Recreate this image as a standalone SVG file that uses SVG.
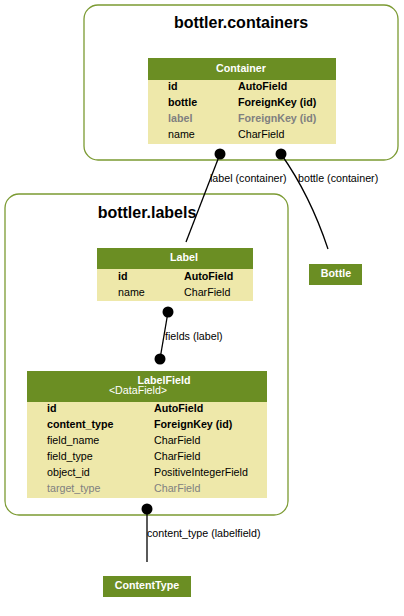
<svg xmlns="http://www.w3.org/2000/svg" width="404" height="616" viewBox="0 0 404 616">
<style>
text{font-family:"Liberation Sans",Arial,sans-serif;font-size:10.7px;fill:#000}
.cl{fill:#fff;stroke:#7b9a32;stroke-width:1.3}
.ct{font-size:16px;font-weight:bold;text-anchor:middle}
.hd{fill:#6b8e23}
.bd{fill:#eee8aa}
.ht{fill:#fff;font-weight:bold;text-anchor:middle}
.hs{fill:#fff;text-anchor:middle}
.b{font-weight:bold}
.g{fill:#808080}
.e{fill:none;stroke:#000;stroke-width:1.3}
.dot{fill:#000}
</style>
<rect width="404" height="616" fill="#fff"/>
<g id="cluster_containers">
<rect class="cl" x="84" y="5" width="314" height="155" rx="14"/>
<text class="ct" x="241" y="28">bottler.containers</text>
</g>
<g id="cluster_labels">
<rect class="cl" x="5" y="194" width="283" height="321" rx="14"/>
<text class="ct" x="147" y="218">bottler.labels</text>
</g>
<g id="Container">
<rect class="hd" x="148" y="58" width="188" height="22"/>
<rect class="bd" x="148" y="80" width="188" height="64"/>
<text class="ht" x="241" y="72">Container</text>
<text class="b" x="168" y="90">id</text><text class="b" x="238" y="90">AutoField</text>
<text class="b" x="168" y="106">bottle</text><text class="b" x="238" y="106">ForeignKey (id)</text>
<text class="b g" x="168" y="122">label</text><text class="b g" x="238" y="122">ForeignKey (id)</text>
<text x="168" y="138">name</text><text x="238" y="138">CharField</text>
</g>
<g id="Label">
<rect class="hd" x="97" y="248" width="156" height="21"/>
<rect class="bd" x="97" y="269" width="156" height="32"/>
<text class="ht" x="184" y="261">Label</text>
<text class="b" x="118" y="280">id</text><text class="b" x="184" y="280">AutoField</text>
<text x="118" y="296">name</text><text x="184" y="296">CharField</text>
</g>
<g id="LabelField">
<rect class="hd" x="27" y="371" width="240" height="31"/>
<rect class="bd" x="27" y="402" width="240" height="96"/>
<text class="ht" x="164" y="384">LabelField</text>
<text class="hs" x="138" y="394">&lt;DataField&gt;</text>
<text class="b" x="47" y="412">id</text><text class="b" x="154" y="412">AutoField</text>
<text class="b" x="47" y="428">content_type</text><text class="b" x="154" y="428">ForeignKey (id)</text>
<text x="47" y="444">field_name</text><text x="154" y="444">CharField</text>
<text x="47" y="460">field_type</text><text x="154" y="460">CharField</text>
<text x="47" y="476">object_id</text><text x="154" y="476">PositiveIntegerField</text>
<text class="g" x="47" y="492">target_type</text><text class="g" x="154" y="492">CharField</text>
</g>
<g id="Bottle">
<rect class="hd" x="309" y="264" width="53" height="21"/>
<text class="ht" x="336" y="277">Bottle</text>
</g>
<g id="ContentType">
<rect class="hd" x="103" y="576" width="88" height="21"/>
<text class="ht" x="147" y="589">ContentType</text>
</g>
<g id="connectors">
<path class="e" d="M220,154 Q206,190 186,242"/>
<circle class="dot" cx="220" cy="154" r="5.5"/>
<text x="210" y="182">label (container)</text>
<path class="e" d="M281,154 Q310,195 328,249"/>
<circle class="dot" cx="281" cy="154" r="5.5"/>
<text x="298" y="182">bottle (container)</text>
<path class="e" d="M168,312 L160,359"/>
<circle class="dot" cx="168" cy="312" r="5.5"/>
<circle class="dot" cx="160" cy="359" r="5.5"/>
<text x="165" y="340">fields (label)</text>
<path class="e" d="M147,509 L147,562"/>
<circle class="dot" cx="147" cy="509" r="5.5"/>
<text x="147" y="537">content_type (labelfield)</text>
</g>
</svg>
